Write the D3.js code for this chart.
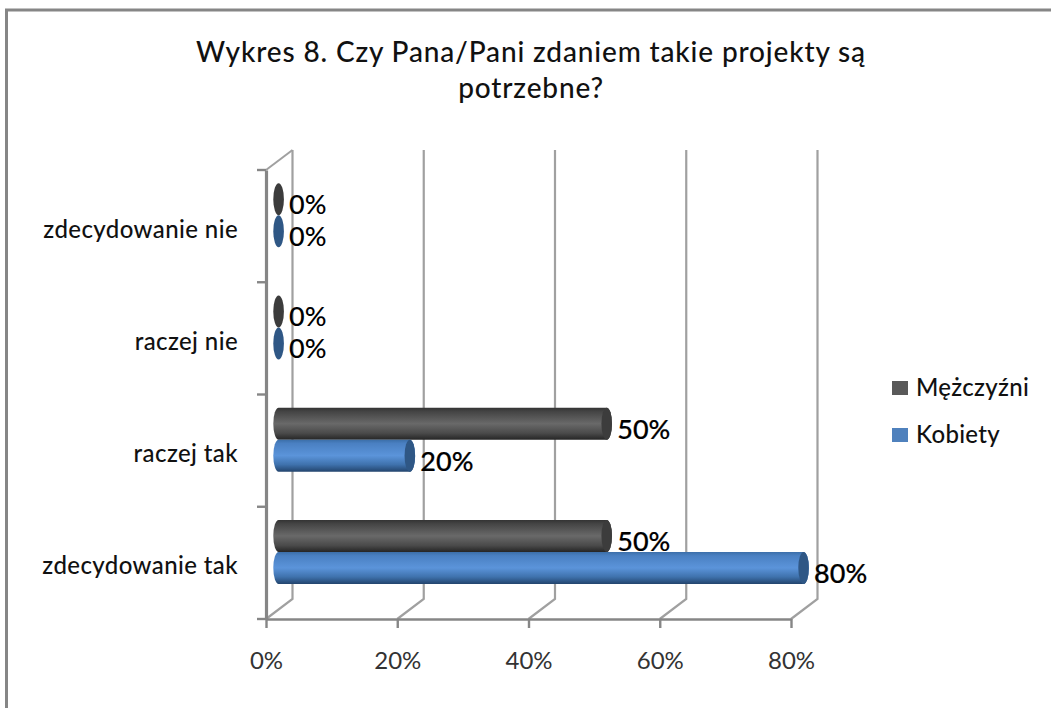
<!DOCTYPE html>
<html>
<head>
<meta charset="utf-8">
<script src="https://cdn.jsdelivr.net/npm/d3@7"></script>
<style>
body { margin: 0; background: #fff; }
svg { display: block; }
text { font-family: Lato, "Open Sans", sans-serif; }
</style>
</head>
<body>
<svg id="chart"></svg>
<script>
const categories = ["zdecydowanie tak", "raczej tak", "raczej nie", "zdecydowanie nie"];
const kobiety = [80, 20, 0, 0];
const mezczyzni = [50, 50, 0, 0];
const ticks = [0, 20, 40, 60, 80];
const titleLines = ["Wykres 8. Czy Pana/Pani zdaniem takie projekty są", "potrzebne?"];

const width = 1051;
const height = 708;
const depthX = 26.5, depthY = -20;
const barH = 32, rx = 5.3;

const svg = d3.select("#chart").attr("width", width).attr("height", height);

const x = d3.scaleLinear().domain([0, 80]).range([266, 791]);
const y = d3.scaleBand().domain(categories).range([619, 170]);

// cylinder shading
const defs = svg.append("defs");
function gradient(id, stops) {
    const g = defs.append("linearGradient").attr("id", id)
        .attr("x1", 0).attr("y1", 0).attr("x2", 0).attr("y2", 1);
    stops.forEach(s => g.append("stop").attr("offset", s[0]).attr("stop-color", s[1]));
}
gradient("gradM", [[0, "#333"], [0.12, "#444"], [0.5, "#696969"], [0.8, "#4a4a4a"], [1, "#262626"]]);
gradient("gradK", [[0, "#3b6ea8"], [0.12, "#4a80c2"], [0.5, "#5b94da"], [0.78, "#3f72ad"], [1, "#23456e"]]);

// frame
svg.append("path").attr("d", `M6.5,${height}V10H${width}`)
    .attr("fill", "none").attr("stroke", "#868686").attr("stroke-width", 3);

// title
svg.append("g").selectAll("text").data(titleLines).enter().append("text")
    .attr("x", 531).attr("y", (d, i) => 62 + i * 36)
    .attr("text-anchor", "middle").attr("font-size", 28).attr("font-weight", 500)
    .attr("letter-spacing", 0.85)
    .attr("fill", "#111").text(d => d);

// back wall grid
const grid = svg.append("g").attr("fill", "none").attr("stroke", "#a0a0a0");
grid.selectAll("path").data(ticks).enter().append("path")
    .attr("stroke-width", 2.2)
    .attr("d", d => `M${x(d)},619l${depthX},${depthY}V${170 + depthY}`);
grid.append("path").attr("stroke-width", 2)
    .attr("d", `M${x(0)},170l${depthX},${depthY}`);

// axes
const xAxis = svg.append("g").attr("transform", "translate(0,619)")
    .call(d3.axisBottom(x).tickValues(ticks).tickFormat(d => d + "%").tickSize(9).tickPadding(24).tickSizeOuter(0));
const yAxis = svg.append("g").attr("transform", "translate(266,0)")
    .call(d3.axisLeft(y).tickSize(0).tickPadding(28));
xAxis.select(".domain").attr("stroke", "#868686").attr("stroke-width", 2.4);
xAxis.selectAll("line").attr("stroke", "#868686").attr("stroke-width", 2.4);
xAxis.selectAll("text").attr("font-size", 24).attr("fill", "#333").attr("font-family", "Lato");
yAxis.select(".domain").attr("stroke", "#868686").attr("stroke-width", 3.2);
yAxis.selectAll("text").attr("font-size", 24).attr("font-weight", 500).attr("fill", "#111")
    .attr("letter-spacing", 0.4)
    .attr("font-family", "Lato").attr("dy", "0.48em");
yAxis.selectAll(".edge").data(y.domain().concat("end")).enter().append("line")
    .attr("x1", -9).attr("x2", 0)
    .attr("y1", d => d === "end" ? y.range()[1] : y(d) + y.bandwidth())
    .attr("y2", d => d === "end" ? y.range()[1] : y(d) + y.bandwidth())
    .attr("stroke", "#868686").attr("stroke-width", 2.4);

// bars, men first so women's bars sit on top of the label
const series = [
    { values: mezczyzni, grad: "gradM", cap: "#3c3c3c", row: 0 },
    { values: kobiety, grad: "gradK", cap: "#2f5785", row: 1 }
];
const bars = svg.append("g");
series.forEach(s => {
    categories.forEach((c, i) => {
        const v = s.values[i];
        const x0 = x(0) + 12.6;
        const x1 = x(v) + 12.6;
        const top = y(c) + y.bandwidth() / 2 - 11 - barH + s.row * barH;
        if (v > 0) {
            bars.append("path")
                .attr("d", `M${x0},${top}A${rx},${barH / 2} 0 0 0 ${x0},${top + barH}H${x1}A${rx},${barH / 2} 0 0 0 ${x1},${top}Z`)
                .attr("fill", `url(#${s.grad})`);
        }
        bars.append("ellipse")
            .attr("cx", x1).attr("cy", top + barH / 2)
            .attr("rx", rx).attr("ry", barH / 2)
            .attr("fill", s.cap);
        bars.append("text")
            .attr("x", x1 + 10.5).attr("y", top + barH / 2 + 15)
            .attr("font-size", 27).attr("font-weight", 500).attr("fill", "#000")
            .attr("stroke", v > 0 ? "#000" : "none").attr("stroke-width", 0.2)
            .text(v + "%");
    });
});

// legend
const legendNames = ["Mężczyźni", "Kobiety"];
const legendColors = ["#595959", "#4f81bd"];
const legendY = d3.scalePoint().domain(legendNames).range([388, 435]);
const legend = svg.append("g").selectAll("g").data(legendNames).enter().append("g")
    .attr("transform", d => `translate(892,${legendY(d)})`);
legend.append("rect").attr("y", -7).attr("width", 16).attr("height", 14)
    .attr("fill", (d, i) => legendColors[i]);
legend.append("text").attr("x", 24).attr("y", 8).attr("font-size", 24).attr("font-weight", 500)
    .attr("letter-spacing", 0.3)
    .attr("fill", "#111").text(d => d);
</script>
</body>
</html>
